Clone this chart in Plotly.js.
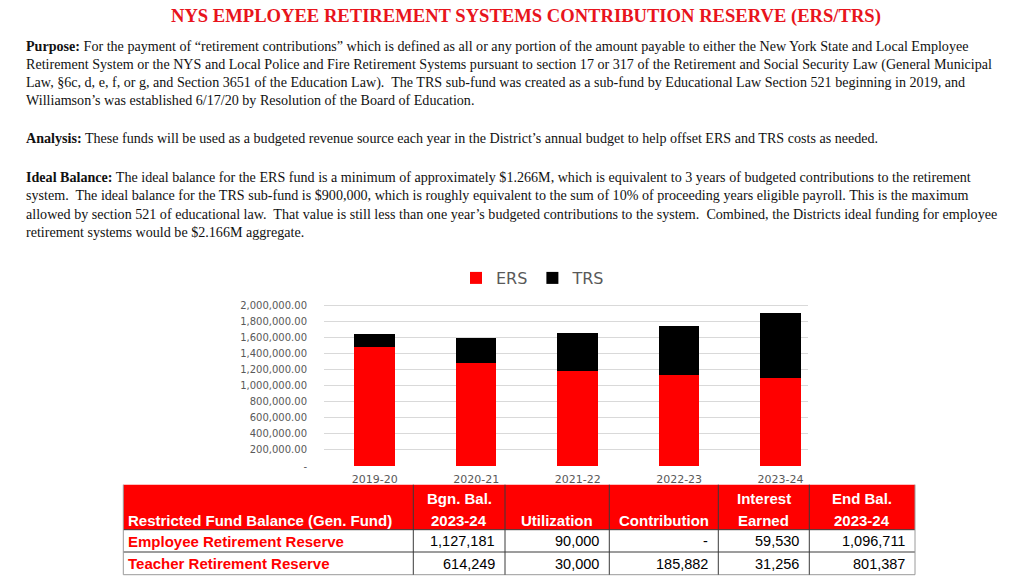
<!DOCTYPE html>
<html>
<head>
<meta charset="utf-8">
<script src="https://cdn.plot.ly/plotly-3.0.1.min.js"></script>
<style>
html,body{margin:0;padding:0;background:#fff;}
#chart{width:1024px;height:576px;}
</style>
</head>
<body>
<div id="chart"></div>
<script>
// ---- data ----
const years = ["2019-20", "2020-21", "2021-22", "2022-23", "2023-24"];
const ersValues = [1478000, 1283000, 1180000, 1127181, 1096711];
const trsValues = [158000, 311000, 476000, 614249, 801387];
const yTickVals = [0, 200000, 400000, 600000, 800000, 1000000, 1200000, 1400000, 1600000, 1800000, 2000000];
const yTickText = ["-", "200,000.00", "400,000.00", "600,000.00", "800,000.00", "1,000,000.00", "1,200,000.00", "1,400,000.00", "1,600,000.00", "1,800,000.00", "2,000,000.00"];

const tableHeaderLine1 = ["", "Bgn. Bal.", "", "", "Interest", "End Bal."];
const tableHeaderLine2 = ["Restricted Fund Balance (Gen. Fund)", "2023-24", "Utilization", "Contribution", "Earned", "2023-24"];
const fundNames = ["Employee Retirement Reserve", "Teacher Retirement Reserve"];
const bgnBal = ["1,127,181", "614,249"];
const utilization = ["90,000", "30,000"];
const contribution = ["-", "185,882"];
const interestEarned = ["59,530", "31,256"];
const endBal = ["1,096,711", "801,387"];

const titleText = "NYS EMPLOYEE RETIREMENT SYSTEMS CONTRIBUTION RESERVE (ERS/TRS)";
const purposeLines = [
  "<b>Purpose:</b> For the payment of “retirement contributions” which is defined as all or any portion of the amount payable to either the New York State and Local Employee",
  "Retirement System or the NYS and Local Police and Fire Retirement Systems pursuant to section 17 or 317 of the Retirement and Social Security Law (General Municipal",
  "Law, §6c, d, e, f, or g, and Section 3651 of the Education Law).  The TRS sub-fund was created as a sub-fund by Educational Law Section 521 beginning in 2019, and",
  "Williamson’s was established 6/17/20 by Resolution of the Board of Education."
];
const analysisLines = [
  "<b>Analysis:</b> These funds will be used as a budgeted revenue source each year in the District’s annual budget to help offset ERS and TRS costs as needed."
];
const idealLines = [
  "<b>Ideal Balance:</b> The ideal balance for the ERS fund is a minimum of approximately $1.266M, which is equivalent to 3 years of budgeted contributions to the retirement",
  "system.  The ideal balance for the TRS sub-fund is $900,000, which is roughly equivalent to the sum of 10% of proceeding years eligible payroll. This is the maximum",
  "allowed by section 521 of educational law.  That value is still less than one year’s budgeted contributions to the system.  Combined, the Districts ideal funding for employee",
  "retirement systems would be $2.166M aggregate."
];

// ---- layout helpers ----
const W = 1024, H = 576;
const px = x => x / W;
const py = y => 1 - y / H;
const serif = "Liberation Serif, Times New Roman, serif";
const tfont = "Liberation Sans, Arial, sans-serif";
const cfont = "DejaVu Sans, Verdana, sans-serif";

const annotations = [];
const shapes = [];
annotations.push({
  text: "<b>" + titleText + "</b>", x: px(526), y: py(16), xref: "paper", yref: "paper",
  xanchor: "center", yanchor: "middle", showarrow: false,
  font: {family: serif, size: 18.6, color: "#e8141c"}
});
function addLines(lines, y0, dy) {
  lines.forEach((t, i) => annotations.push({
    text: t, x: px(24), y: py(y0 + i * dy), xref: "paper", yref: "paper",
    xanchor: "left", yanchor: "middle", showarrow: false, align: "left",
    font: {family: serif, size: 14.1, color: "#111"}
  }));
}
addLines(purposeLines, 46, 18);
addLines(analysisLines, 138, 18);
addLines(idealLines, 177, 18.4);

// ---- table (drawn with shapes + annotations) ----
const colX = [123.3, 413.3, 505, 609.3, 718.3, 809.3, 915];
const rowY = [484.7, 529.7, 552, 574.7];
const lineColor = "#3a3a3a";
shapes.push({type: "rect", xref: "paper", yref: "paper", x0: px(colX[0]), x1: px(colX[6]), y0: py(rowY[0]), y1: py(rowY[1]),
  fillcolor: "#ff0000", line: {width: 0}, layer: "below"});
rowY.forEach((y, i) => {
  if (i === 0) return;
  shapes.push({type: "line", xref: "paper", yref: "paper", x0: px(colX[0]), x1: px(colX[6]), y0: py(y), y1: py(y),
    line: {color: i === 3 ? "#9a9a9a" : lineColor, width: 1}});
});
colX.forEach((x, j) => {
  const isEdge = (j === 0 || j === 6);
  shapes.push({type: "line", xref: "paper", yref: "paper", x0: px(x), x1: px(x), y0: py(rowY[0]), y1: py(rowY[3]),
    line: {color: isEdge ? "#9a9a9a" : lineColor, width: 1}});
});
[tableHeaderLine1, tableHeaderLine2].forEach((line, r) => {
  line.forEach((t, j) => {
    if (!t) return;
    const left = j === 0;
    annotations.push({
      text: "<b>" + t + "</b>", xref: "paper", yref: "paper",
      x: px(left ? colX[0] + 3 : (colX[j] + colX[j + 1]) / 2), y: py(r === 0 ? 498 : 520),
      xanchor: left ? "left" : "center", yanchor: "middle", showarrow: false,
      font: {family: tfont, size: 15, color: "#ffffff"}
    });
  });
});
const bodyCols = [fundNames, bgnBal, utilization, contribution, interestEarned, endBal];
bodyCols.forEach((col, j) => {
  col.forEach((t, r) => {
    const yMid = (rowY[r + 1] + rowY[r + 2]) / 2 + 0.5;
    const left = j === 0;
    annotations.push({
      text: left ? "<b>" + t + "</b>" : t, xref: "paper", yref: "paper",
      x: px(left ? colX[0] + 3 : colX[j + 1] - 8), y: py(yMid),
      xanchor: left ? "left" : "right", yanchor: "middle", showarrow: false,
      font: {family: tfont, size: left ? 15 : 14.5, color: left ? "#ff0000" : "#000000"}
    });
  });
});

const traces = [
  {type: "bar", name: "ERS", x: years, y: ersValues, marker: {color: "#ff0000"}, width: 0.4, hoverinfo: "skip"},
  {type: "bar", name: "TRS", x: years, y: trsValues, marker: {color: "#000000"}, width: 0.4, hoverinfo: "skip"}
];

const layout = {
  width: W, height: H,
  margin: {l: 0, r: 0, t: 0, b: 0},
  paper_bgcolor: "#fff", plot_bgcolor: "#fff",
  barmode: "stack",
  showlegend: true,
  legend: {
    orientation: "h", x: px(533), y: py(278), xanchor: "center", yanchor: "middle",
    font: {family: cfont, size: 16, color: "#595959"}, itemwidth: 30, traceorder: "normal"
  },
  xaxis: {
    domain: [px(324), px(808)], range: [-0.5, 4.27], type: "category",
    showgrid: false, zeroline: false, showline: false, ticks: "",
    tickfont: {family: cfont, size: 11, color: "#595959"}, ticklabelstandoff: 5
  },
  yaxis: {
    domain: [py(466), py(297)], range: [0, 2100000],
    tickvals: yTickVals, ticktext: yTickText,
    showgrid: true, gridcolor: "#d9d9d9", gridwidth: 1, zeroline: false, showline: false,
    tickfont: {family: cfont, size: 10, color: "#595959"}, ticklabelstandoff: 16
  },
  shapes: shapes,
  annotations: annotations
};

Plotly.newPlot("chart", traces, layout, {displayModeBar: false, staticPlot: true});
</script>
</body>
</html>
